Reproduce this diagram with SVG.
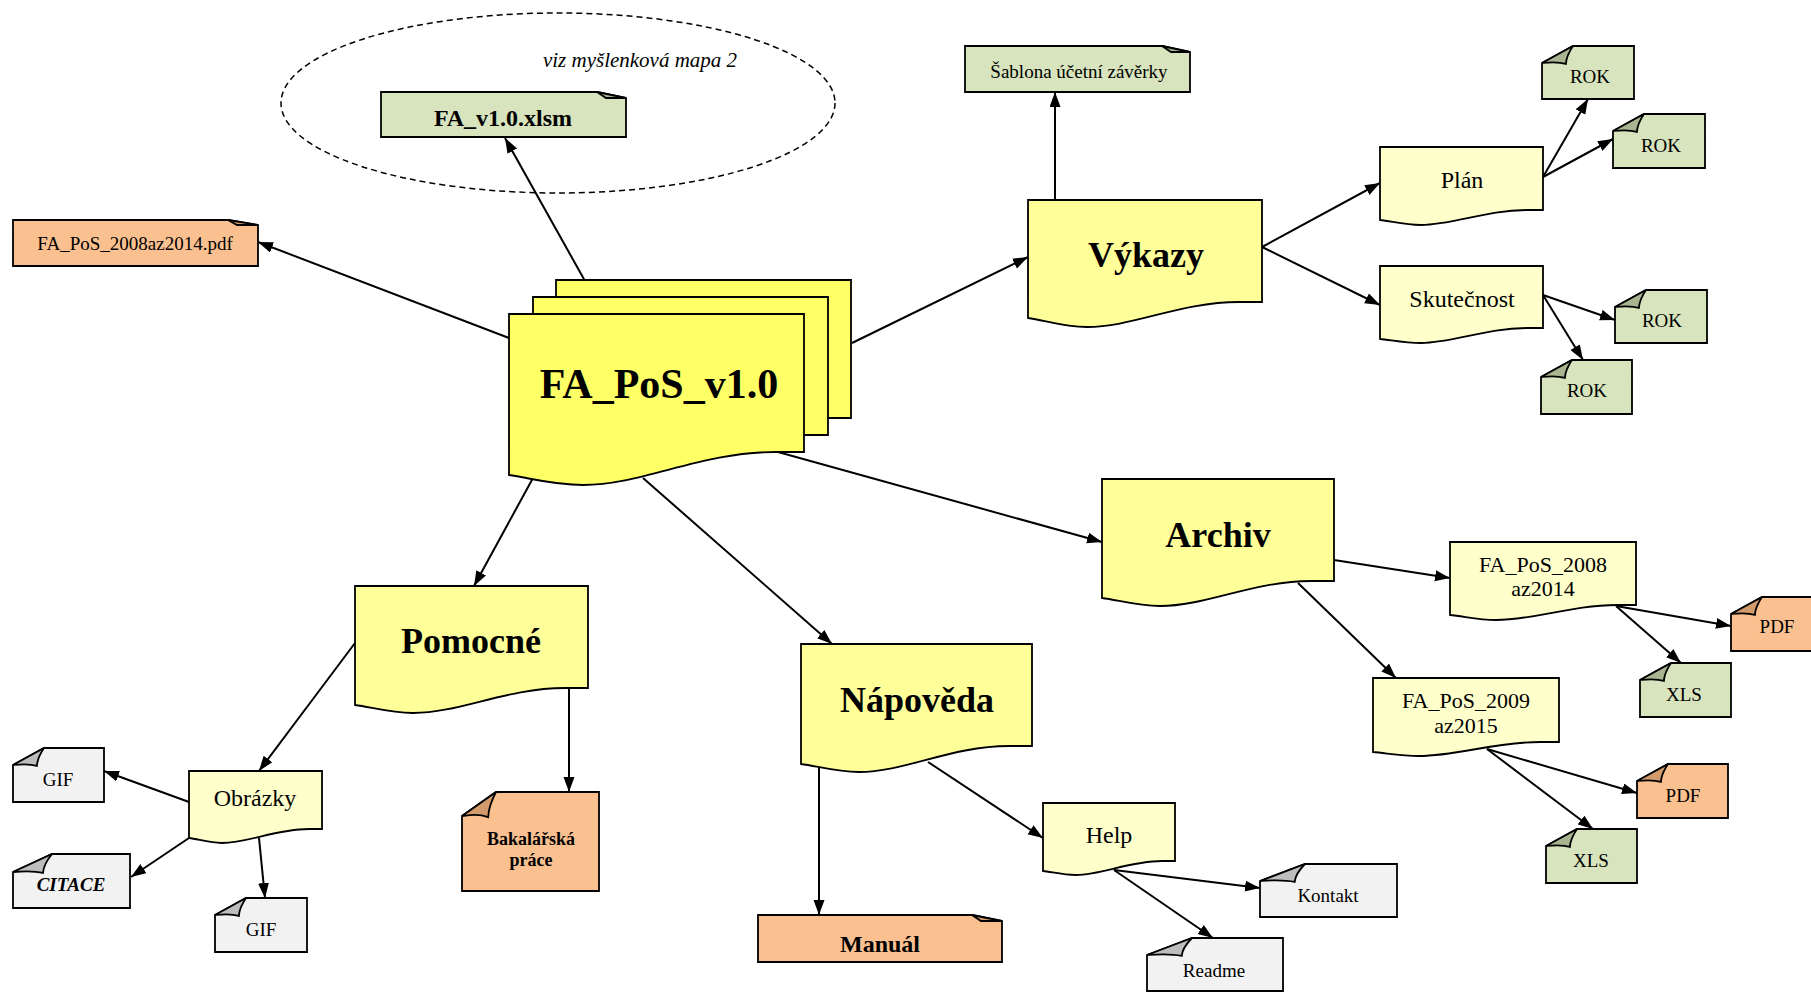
<svg xmlns="http://www.w3.org/2000/svg" xmlns:xlink="http://www.w3.org/1999/xlink" width="1811" height="992" viewBox="0 0 1811 992">
<style>
text{font-family:"Liberation Serif","Times New Roman",serif;fill:#000;text-anchor:middle}
.b{font-weight:bold}
.t0{font-size:42px;font-weight:bold}
.t1{font-size:36px;font-weight:bold}
.t2{font-size:24px}
.t2s{font-size:22px}
.t3{font-size:19px}
.shape{stroke:#000;stroke-width:1.8;stroke-linejoin:miter}
.main{fill:#ffff66}
.l1{fill:#ffff99}
.l2{fill:#ffffcc}
.green{fill:#d7e4bd}
.orange{fill:#fac090}
.gray{fill:#f2f2f2}
.fg{fill:#a9b590}
.fo{fill:#d39a6b}
.fgr{fill:#bdbdbd}
.conn line{stroke:#000;stroke-width:2;marker-end:url(#arr)}
</style>
<defs>
<marker id="arr" markerUnits="userSpaceOnUse" markerWidth="16" markerHeight="12" refX="15" refY="5.5" orient="auto"><path d="M0,0 L15,5.5 L0,11 Z" fill="#000"/></marker>
<path id="fs" class="shape" d="M0,17 L31,0 C26.4,6.8 24.2,11.9 23.9,17.9 C15.5,15.3 7.8,16.2 0,17 Z"/>
<path id="fm" class="shape" d="M0,18 L39,0 C33.2,7.2 30.4,12.6 30,18.9 C19.5,16.2 9.8,17.1 0,18 Z"/>
<path id="fl" class="shape" d="M0,17 L45,0 C38.3,6.8 35.1,11.9 34.7,17.9 C22.5,15.3 11.3,16.2 0,17 Z"/>
<path id="fb" class="shape" d="M0,24 L34,0 C28.9,9.6 26.5,16.8 26.2,25.2 C17,21.6 8.5,22.8 0,24 Z"/>
<path id="mainDoc" class="shape main" d="M509,314 H804 V452 H775 C701,452 642,485 583,485 C553,485 530,478 509,475 Z"/>
</defs>

<g id="connectors" class="conn">
<line x1="585" y1="281" x2="505" y2="138"/>
<line x1="509" y1="338" x2="258" y2="242"/>
<line x1="852" y1="343" x2="1028" y2="257"/>
<line x1="1055" y1="200" x2="1055" y2="92"/>
<line x1="1262" y1="247" x2="1380" y2="183"/>
<line x1="1262" y1="247" x2="1380" y2="305"/>
<line x1="1543" y1="177" x2="1588" y2="99"/>
<line x1="1543" y1="177" x2="1613" y2="139"/>
<line x1="1543" y1="295" x2="1615" y2="320"/>
<line x1="1543" y1="295" x2="1583" y2="360"/>
<line x1="778" y1="452" x2="1102" y2="542"/>
<line x1="1334" y1="560" x2="1450" y2="578"/>
<line x1="1298" y1="583" x2="1396" y2="678"/>
<line x1="1616" y1="606" x2="1731" y2="626"/>
<line x1="1616" y1="606" x2="1681" y2="663"/>
<line x1="1487" y1="749" x2="1637" y2="793"/>
<line x1="1487" y1="749" x2="1593" y2="829"/>
<line x1="643" y1="478" x2="832" y2="644"/>
<line x1="928" y1="762" x2="1043" y2="838"/>
<line x1="819" y1="767" x2="819" y2="915"/>
<line x1="1114" y1="870" x2="1260" y2="888"/>
<line x1="1114" y1="870" x2="1213" y2="938"/>
<line x1="533" y1="478" x2="474" y2="586"/>
<line x1="355" y1="643" x2="259" y2="771"/>
<line x1="569" y1="688" x2="569" y2="792"/>
<line x1="189" y1="802" x2="104" y2="771"/>
<line x1="189" y1="838" x2="131" y2="877"/>
<line x1="259" y1="838" x2="265" y2="898"/>
</g>

<g id="group-mapa2">
<ellipse cx="558" cy="103" rx="277" ry="90" fill="none" stroke="#000" stroke-width="1.5" stroke-dasharray="6 4"/>
<text x="640" y="67" style="font-size:21px;font-style:italic">viz myšlenková mapa 2</text>
</g>

<g id="n-fa-xlsm" transform="translate(381,92)">
<path class="shape green" d="M0,0 H216 L245,6 V45 H0 Z"/>
<path class="shape fg" d="M216,0 L225,6 H245 Z"/>
<text class="b" x="122" y="34" style="font-size:24px">FA_v1.0.xlsm</text>
</g>

<g id="n-fa-pdf" transform="translate(13,220)">
<path class="shape orange" d="M0,0 H215 L245,5 V46 H0 Z"/>
<path class="shape fo" d="M215,0 L224,5 H245 Z"/>
<text class="t3" x="122" y="30">FA_PoS_2008az2014.pdf</text>
</g>

<g id="n-main">
<use href="#mainDoc" transform="translate(47,-34)"/>
<use href="#mainDoc" transform="translate(24,-17)"/>
<use href="#mainDoc"/>
<text class="t0" x="659" y="398">FA_PoS_v1.0</text>
</g>

<g id="n-vykazy">
<path class="shape l1" d="M1028,200 H1262 V302 H1239 C1180,302 1133,327 1087,327 C1063,327 1044,320 1028,318 Z"/>
<text class="t1" x="1146" y="267">Výkazy</text>
</g>

<g id="n-sablona" transform="translate(965,46)">
<path class="shape green" d="M0,0 H197 L225,6 V46 H0 Z"/>
<path class="shape fg" d="M197,0 L206,6 H225 Z"/>
<text class="t3" x="114" y="32">Šablona účetní závěrky</text>
</g>

<g id="n-plan">
<path class="shape l2" d="M1380,147 H1543 V210 H1527 C1486,210 1453,225 1421,225 C1404,225 1391,221 1380,220 Z"/>
<text class="t2" x="1462" y="188">Plán</text>
</g>

<g id="n-skutecnost">
<path class="shape l2" d="M1380,266 H1543 V328 H1527 C1486,328 1453,343 1421,343 C1404,343 1391,340 1380,339 Z"/>
<text class="t2" x="1462" y="307">Skutečnost</text>
</g>

<g id="n-rok1" transform="translate(1542,46)">
<path class="shape green" d="M0,17 L31,0 H92 V53 H0 Z"/>
<use href="#fs" class="fg"/>
<text class="t3" x="48" y="37">ROK</text>
</g>
<g id="n-rok2" transform="translate(1613,114)">
<path class="shape green" d="M0,17 L31,0 H92 V54 H0 Z"/>
<use href="#fs" class="fg"/>
<text class="t3" x="48" y="38">ROK</text>
</g>
<g id="n-rok3" transform="translate(1615,290)">
<path class="shape green" d="M0,17 L31,0 H92 V53 H0 Z"/>
<use href="#fs" class="fg"/>
<text class="t3" x="47" y="37">ROK</text>
</g>
<g id="n-rok4" transform="translate(1541,360)">
<path class="shape green" d="M0,17 L31,0 H91 V54 H0 Z"/>
<use href="#fs" class="fg"/>
<text class="t3" x="46" y="37">ROK</text>
</g>

<g id="n-archiv">
<path class="shape l1" d="M1102,479 H1334 V581 H1311 C1253,581 1206,606 1160,606 C1137,606 1118,600 1102,598 Z"/>
<text class="t1" x="1218" y="547">Archiv</text>
</g>

<g id="n-fa2008">
<path class="shape l2" d="M1450,542 H1636 V605 H1617 C1571,605 1534,620 1496,620 C1478,620 1463,616 1450,615 Z"/>
<text class="t2s" x="1543" y="572">FA_PoS_2008</text>
<text class="t2s" x="1543" y="596">az2014</text>
</g>

<g id="n-fa2009">
<path class="shape l2" d="M1373,678 H1559 V742 H1540 C1494,742 1457,756 1419,756 C1401,756 1386,753 1373,752 Z"/>
<text class="t2s" x="1466" y="708">FA_PoS_2009</text>
<text class="t2s" x="1466" y="733">az2015</text>
</g>

<g id="n-pdf1" transform="translate(1731,597)">
<path class="shape orange" d="M0,17 L31,0 H92 V54 H0 Z"/>
<use href="#fs" class="fo"/>
<text class="t3" x="46" y="36">PDF</text>
</g>
<g id="n-xls1" transform="translate(1640,663)">
<path class="shape green" d="M0,17 L31,0 H91 V54 H0 Z"/>
<use href="#fs" class="fg"/>
<text class="t3" x="44" y="38">XLS</text>
</g>
<g id="n-pdf2" transform="translate(1637,764)">
<path class="shape orange" d="M0,17 L31,0 H91 V54 H0 Z"/>
<use href="#fs" class="fo"/>
<text class="t3" x="46" y="38">PDF</text>
</g>
<g id="n-xls2" transform="translate(1546,829)">
<path class="shape green" d="M0,17 L31,0 H91 V54 H0 Z"/>
<use href="#fs" class="fg"/>
<text class="t3" x="45" y="38">XLS</text>
</g>

<g id="n-napoveda">
<path class="shape l1" d="M801,644 H1032 V746 H1009 C951,746 905,772 859,772 C836,772 817,766 801,764 Z"/>
<text class="t1" x="917" y="712">Nápověda</text>
</g>

<g id="n-help">
<path class="shape l2" d="M1043,803 H1175 V861 H1162 C1129,861 1102,875 1076,875 C1063,875 1052,872 1043,871 Z"/>
<text class="t2" x="1109" y="843">Help</text>
</g>

<g id="n-manual" transform="translate(758,915)">
<path class="shape orange" d="M0,0 H214 L244,6 V47 H0 Z"/>
<path class="shape fo" d="M214,0 L223,6 H244 Z"/>
<text class="b" x="122" y="37" style="font-size:24px">Manuál</text>
</g>

<g id="n-kontakt" transform="translate(1260,864)">
<path class="shape gray" d="M0,17 L45,0 H137 V53 H0 Z"/>
<use href="#fl" class="fgr"/>
<text class="t3" x="68" y="38">Kontakt</text>
</g>

<g id="n-readme" transform="translate(1147,938)">
<path class="shape gray" d="M0,17 L45,0 H136 V53 H0 Z"/>
<use href="#fl" class="fgr"/>
<text class="t3" x="67" y="39">Readme</text>
</g>

<g id="n-pomocne">
<path class="shape l1" d="M355,586 H588 V688 H565 C506,688 460,713 413,713 C390,713 371,707 355,705 Z"/>
<text class="t1" x="471" y="653">Pomocné</text>
</g>

<g id="n-bakalarska" transform="translate(462,792)">
<path class="shape orange" d="M0,24 L34,0 H137 V99 H0 Z"/>
<use href="#fb" class="fo"/>
<text class="b" x="69" y="53" style="font-size:18px">Bakalářská</text>
<text class="b" x="69" y="74" style="font-size:18px">práce</text>
</g>

<g id="n-obrazky">
<path class="shape l2" d="M189,771 H322 V829 H309 C275,829 249,843 222,843 C209,843 198,839 189,838 Z"/>
<text class="t2" x="255" y="806">Obrázky</text>
</g>

<g id="n-gif1" transform="translate(13,748)">
<path class="shape gray" d="M0,17 L31,0 H91 V54 H0 Z"/>
<use href="#fs" class="fgr"/>
<text class="t3" x="45" y="38">GIF</text>
</g>
<g id="n-citace" transform="translate(13,854)">
<path class="shape gray" d="M0,18 L39,0 H117 V54 H0 Z"/>
<use href="#fm" class="fgr"/>
<text x="58" y="37" style="font-size:19px;font-weight:bold;font-style:italic">CITACE</text>
</g>
<g id="n-gif2" transform="translate(215,898)">
<path class="shape gray" d="M0,17 L31,0 H92 V54 H0 Z"/>
<use href="#fs" class="fgr"/>
<text class="t3" x="46" y="38">GIF</text>
</g>
</svg>
